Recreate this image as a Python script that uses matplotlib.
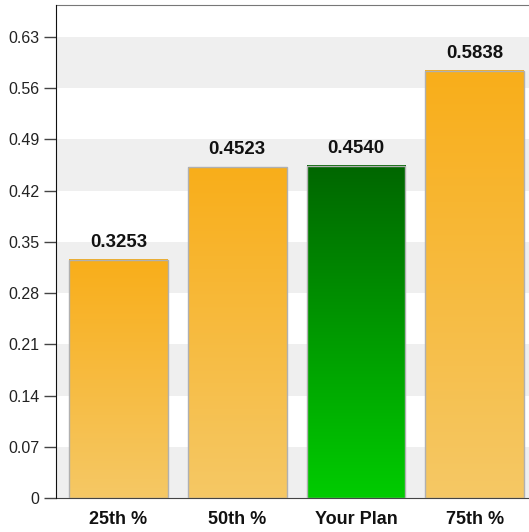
import matplotlib
matplotlib.use("Agg")
import matplotlib.pyplot as plt
import numpy as np
from matplotlib.colors import LinearSegmentedColormap

plt.rcParams['font.family'] = ['Liberation Sans', 'DejaVu Sans']

categories = ["25th %", "50th %", "Your Plan", "75th %"]
values = [0.3253, 0.4523, 0.4540, 0.5838]
highlight = [False, False, True, False]
yticks = [0, 0.07, 0.14, 0.21, 0.28, 0.35, 0.42, 0.49, 0.56, 0.63]
ytick_labels = ["0", "0.07", "0.14", "0.21", "0.28", "0.35", "0.42", "0.49", "0.56", "0.63"]
ymax = 0.6737

fig = plt.figure(figsize=(5.29, 5.32), dpi=100)
ax = fig.add_axes([56/529, 1-498/532, (529-56)/529, (498-5)/532])

# alternating bands
for i in range(len(yticks)):
    lo = yticks[i]
    hi = yticks[i+1] if i+1 < len(yticks) else ymax
    if i % 2 == 0:
        ax.axhspan(lo, hi, color="#efefef", zorder=0, lw=0)

orange = LinearSegmentedColormap.from_list("o", ["#f5c865", "#f9ae1a"])
green = LinearSegmentedColormap.from_list("g", ["#00cc00", "#006600"])
grad = np.linspace(0, 1, 256).reshape(-1, 1)

width = 0.83
x = np.arange(len(categories))
bars = ax.bar(x, values, width=width, color="none", edgecolor="#b0b0b0", linewidth=1.0, zorder=3)
for b, v, h in zip(bars, values, highlight):
    x0 = b.get_x()
    ax.imshow(grad, cmap=green if h else orange, origin="lower", aspect="auto",
              extent=[x0, x0 + width, 0, v], zorder=2, interpolation="bilinear")
    ax.annotate(f"{v:.4f}", (b.get_x() + width/2, v), xytext=(0, 9.5), textcoords="offset points",
                ha="center", va="baseline", fontsize=13.4, fontweight="bold", color="#111111")

ax.set_xlim(-0.527, 3.458)
ax.set_ylim(0, ymax)
ax.set_yticks(yticks)
ax.set_yticklabels(ytick_labels, fontsize=11.5, color="#222222")
ax.set_xticks(x)
ax.set_xticklabels(categories, fontsize=13, fontweight="bold", color="#111111")
ax.tick_params(axis="x", length=0, pad=9)
ax.tick_params(axis="y", length=9, width=1, color="#444444", pad=3)

ax.spines["right"].set_visible(False)
ax.spines["top"].set_color("#777777")
ax.spines["left"].set_color("#111111")
ax.spines["bottom"].set_color("#444444")
ax.spines["left"].set_zorder(5)

fig.savefig("out.png", dpi=100)
